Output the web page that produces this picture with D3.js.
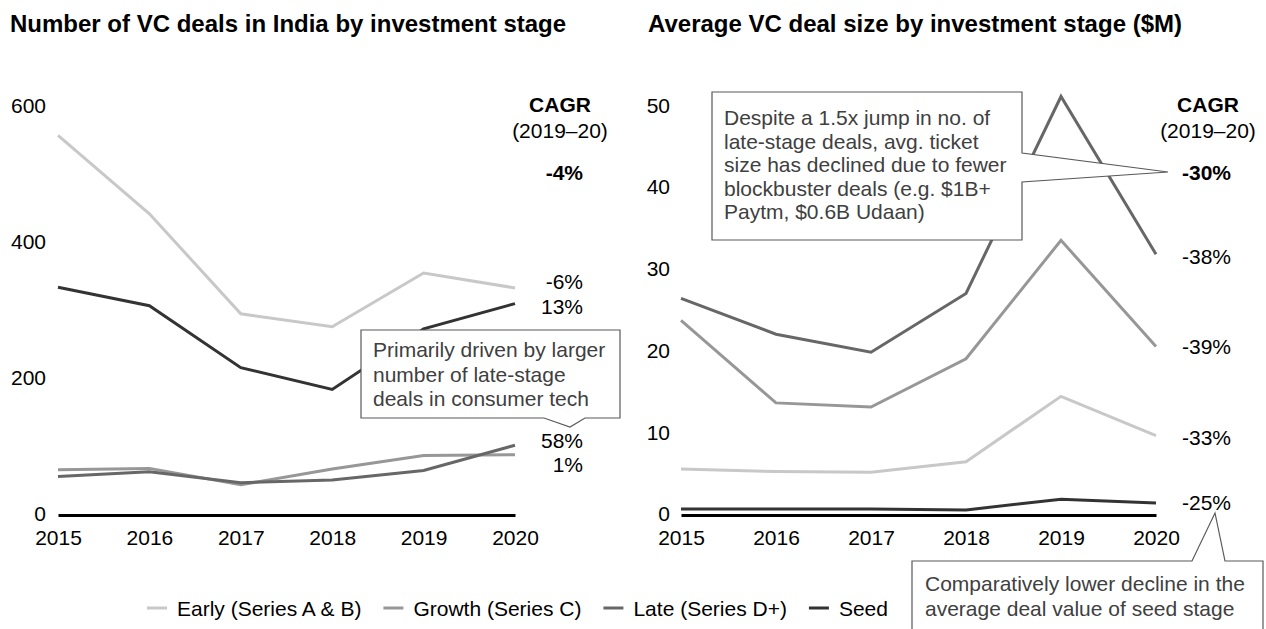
<!DOCTYPE html>
<html>
<head>
<meta charset="utf-8">
<script src="https://cdn.jsdelivr.net/npm/d3@7"></script>
<style>
    body { margin: 0; background: #fff; }
    svg { display: block; font-family: "Liberation Sans", Arial, sans-serif; }
</style>
</head>
<body>
<svg id="chart" width="1266" height="629"></svg>
<script>
// shared categories
let years = [2015, 2016, 2017, 2018, 2019, 2020];
let stages = ['Early (Series A & B)', 'Growth (Series C)', 'Late (Series D+)', 'Seed'];

// number of VC deals, per stage
let dealsEarly  = [556, 441, 294, 275, 354, 332];
let dealsGrowth = [65, 67, 43, 66, 86, 87];
let dealsLate   = [55, 62, 46, 50, 64, 101];
let dealsSeed   = [333, 306, 215, 183, 272, 309];
let dealTicks   = [0, 200, 400, 600];
let dealCagr    = ['-6%', '1%', '58%', '13%'];
let dealCagrAll = '-4%';

// average deal size ($M), per stage
let sizeEarly  = [5.5, 5.2, 5.1, 6.4, 14.4, 9.6];
let sizeGrowth = [23.7, 13.6, 13.1, 19.0, 33.5, 20.5];
let sizeLate   = [26.4, 22.0, 19.8, 27.0, 51.1, 31.8];
let sizeSeed   = [0.6, 0.6, 0.6, 0.5, 1.8, 1.35];
let sizeTicks  = [0, 10, 20, 30, 40, 50];
let sizeCagr   = ['-33%', '-39%', '-38%', '-25%'];
let sizeCagrAll = '-30%';

// callout texts
let noteDeals = ['Primarily driven by larger', 'number of late-stage', 'deals in consumer tech'];
let noteSize = ['Despite a 1.5x jump in no. of', 'late-stage deals, avg. ticket',
    'size has declined due to fewer', 'blockbuster deals (e.g. $1B+', 'Paytm, $0.6B Udaan)'];
let noteSeed = ['Comparatively lower decline in the', 'average deal value of seed stage'];

// one grey per stage, light to dark
let colors = ['#c8c8c8', '#979797', '#676767', '#333333'];

let svg = d3.select('#chart');

/** Draws one panel: axes, stage lines and the CAGR column */
let drawPanel = function( params ) {
    let g = svg.append('g').attr('class', 'panel');

    let x = d3.scalePoint().domain(years).range(params.xRange);
    let y = d3.scaleLinear().domain([0, params.max]).range([514, 105.5]);

    g.append('text')
        .attr('x', params.titleX).attr('y', 32)
        .style('font-size', '24px').style('font-weight', 'bold')
        .text(params.title);

    // y labels only, no ticks or domain
    let yAxis = g.append('g')
        .attr('transform', 'translate(' + params.yLabelX + ',0)')
        .call(d3.axisLeft(y).tickValues(params.ticks).tickSize(0).tickPadding(0));
    yAxis.select('.domain').remove();
    yAxis.selectAll('text').style('font-size', '21px').attr('fill', '#000');

    let xAxis = g.append('g')
        .attr('transform', 'translate(0,' + (y(0) + 1) + ')')
        .call(d3.axisBottom(x).tickSize(0).tickPadding(15));
    xAxis.select('.domain').attr('stroke', '#000').attr('stroke-width', 3);
    xAxis.selectAll('text').style('font-size', '21px').attr('fill', '#000');

    let line = d3.line()
        .x((d, i) => x(years[i]))
        .y(d => y(d));

    g.append('g').selectAll('path')
        .data(params.series)
        .join('path')
            .attr('d', line)
            .attr('fill', 'none')
            .attr('stroke', (d, i) => colors[i])
            .attr('stroke-width', 3)
            .attr('stroke-linejoin', 'miter');

    // CAGR header and per stage growth labels, next to the 2020 values
    let cx = params.cagrX;
    g.append('text')
        .attr('x', params.headX).attr('y', 112)
        .attr('text-anchor', 'middle')
        .style('font-size', '21px').style('font-weight', 'bold')
        .text('CAGR');
    g.append('text')
        .attr('x', params.headX).attr('y', 138)
        .attr('text-anchor', 'middle')
        .style('font-size', '21px')
        .text('(2019\u201320)');
    g.append('text')
        .attr('x', cx).attr('y', 180)
        .attr('text-anchor', 'end')
        .style('font-size', '21px').style('font-weight', 'bold')
        .text(params.cagrAll);
    g.append('g').selectAll('text')
        .data(params.cagr)
        .join('text')
            .attr('x', cx)
            .attr('y', (d, i) => y(params.series[i][5]) + params.nudge[i])
            .attr('dy', '0.35em')
            .attr('text-anchor', 'end')
            .style('font-size', '21px')
            .text(d => d);

    return g;
};

/** Box with a pointer; pts is the outline with the pointer already in it */
let drawCallout = function( pts, lines, tx, ty, lh ) {
    let g = svg.append('g').attr('class', 'callout');
    g.append('path')
        .attr('d', d3.line()(pts) + 'Z')
        .attr('fill', '#fff')
        .attr('stroke', '#595959')
        .attr('stroke-width', 1.2);
    g.append('g').selectAll('text')
        .data(lines)
        .join('text')
            .attr('x', tx)
            .attr('y', (d, i) => ty + i * lh)
            .attr('fill', '#404040')
            .style('font-size', '21px')
            .text(d => d);
    return g;
};

drawPanel({
    title: 'Number of VC deals in India by investment stage',
    titleX: 10,
    xRange: [58, 515],
    max: 600,
    ticks: dealTicks,
    yLabelX: 46,
    series: [dealsEarly, dealsGrowth, dealsLate, dealsSeed],
    cagr: dealCagr,
    cagrAll: dealCagrAll,
    nudge: [-6, 10, -5, 3],
    headX: 560,
    cagrX: 583
});

drawPanel({
    title: 'Average VC deal size by investment stage ($M)',
    titleX: 648,
    xRange: [681, 1156],
    max: 50,
    ticks: sizeTicks,
    yLabelX: 670,
    series: [sizeEarly, sizeGrowth, sizeLate, sizeSeed],
    cagr: sizeCagr,
    cagrAll: sizeCagrAll,
    nudge: [2, 0, 2, 0],
    headX: 1208,
    cagrX: 1231
});

// callouts sit on top of the lines
drawCallout([[361, 330], [620, 330], [620, 418], [585, 418], [570, 427], [544, 418], [361, 418]],
    noteDeals, 373, 357, 24.5);
drawCallout([[712, 92], [1022, 92], [1022, 153], [1168, 172], [1022, 182], [1022, 240], [712, 240]],
    noteSize, 724, 125, 23.5);
drawCallout([[912, 561], [1192, 561], [1215, 513], [1225, 561], [1263, 561], [1263, 640], [912, 640]],
    noteSeed, 925, 591, 25);

// legend along the bottom
let legend = svg.append('g').attr('class', 'legend');
let lx = 147;
stages.forEach(function(s, i) {
    legend.append('line')
        .attr('x1', lx).attr('x2', lx + 20)
        .attr('y1', 608).attr('y2', 608)
        .attr('stroke', colors[i]).attr('stroke-width', 3);
    let t = legend.append('text')
        .attr('x', lx + 30).attr('y', 615.5)
        .style('font-size', '21px')
        .text(s);
    lx += 30 + t.node().getComputedTextLength() + 22;
});
</script>
</body>
</html>
